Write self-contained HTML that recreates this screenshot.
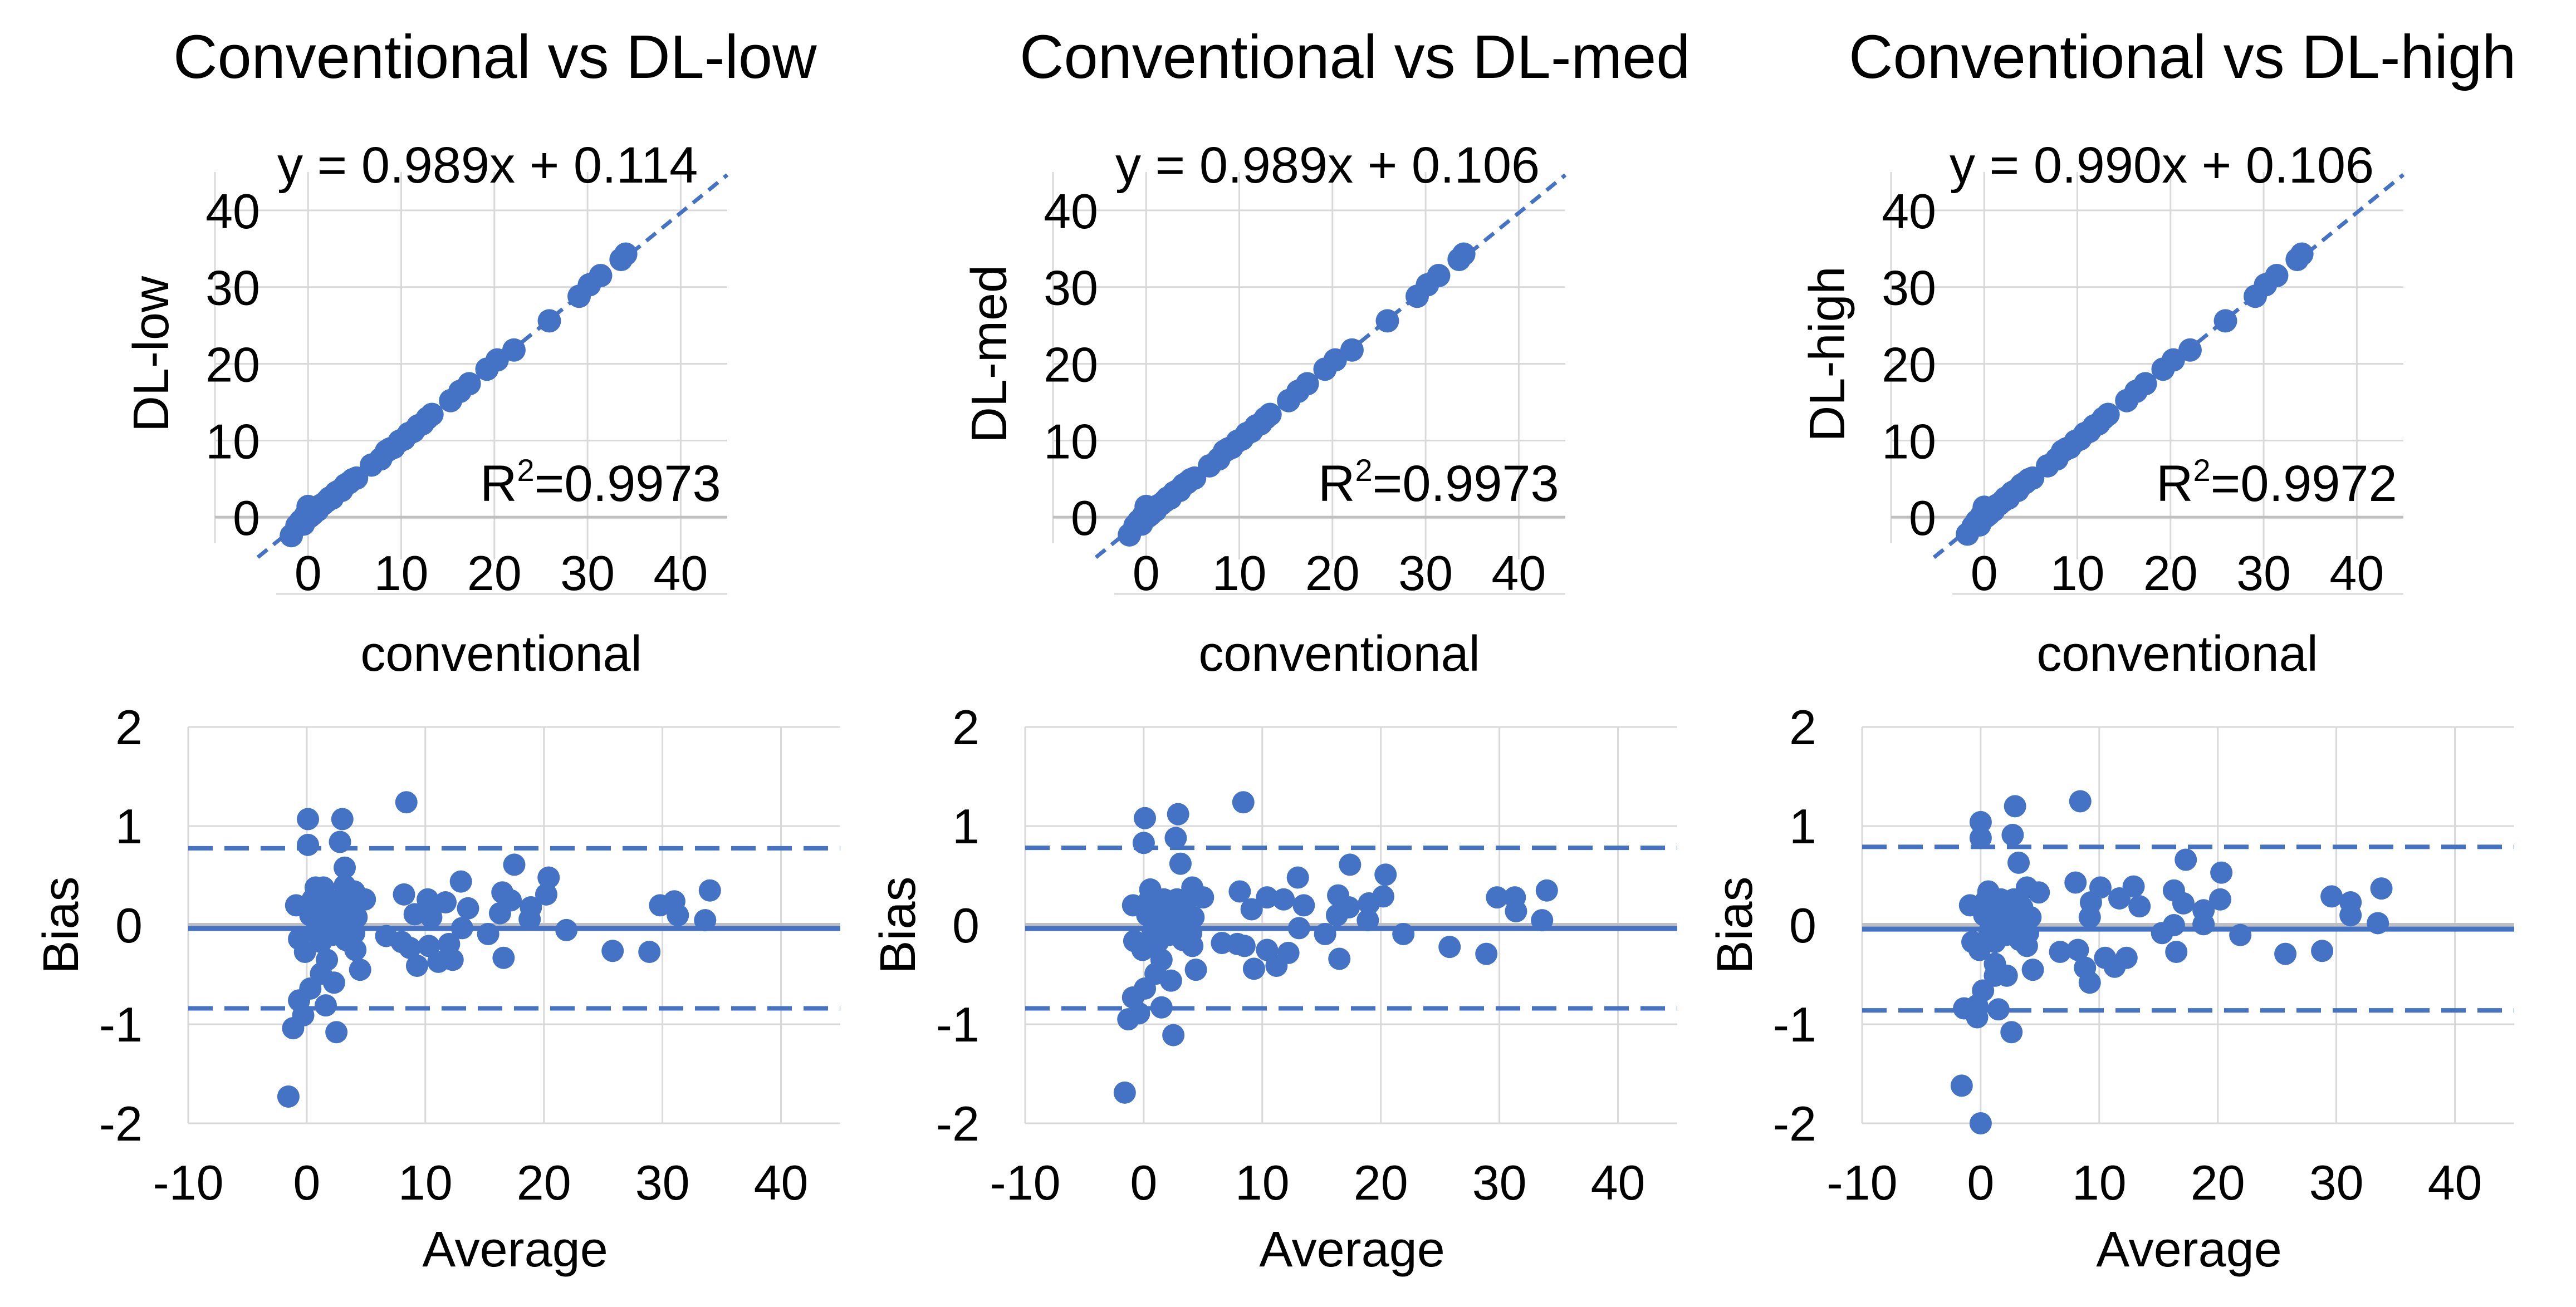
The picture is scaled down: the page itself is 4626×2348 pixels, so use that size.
<!DOCTYPE html>
<html><head><meta charset="utf-8"><style>
html,body{margin:0;padding:0;background:#fff;}
svg{display:block;font-family:"Liberation Sans",Arial,sans-serif;}
</style></head>
<body>
<svg id="chart" xmlns="http://www.w3.org/2000/svg" width="4626" height="2348" viewBox="0 0 4626 2348">
<rect x="0" y="0" width="4626" height="2348" fill="#fff"/>
</svg>
<script>
// ---- data ----
const panelTitles = ["Conventional vs DL-low", "Conventional vs DL-med", "Conventional vs DL-high"];
const dlNames = ["DL-low", "DL-med", "DL-high"];
const equations = ["y = 0.989x + 0.114", "y = 0.989x + 0.106", "y = 0.990x + 0.106"];
const slopes = [0.989, 0.989, 0.990];
const intercepts = [0.114, 0.106, 0.106];
const r2Values = ["0.9973", "0.9973", "0.9972"];
const scatterTicks = [0, 10, 20, 30, 40];
const baXTicks = [-10, 0, 10, 20, 30, 40];
const baYTicks = [-2, -1, 0, 1, 2];
const meanBias = [-0.034, -0.034, -0.04];
const upperLoA = [0.776, 0.78, 0.79];
const lowerLoA = [-0.84, -0.84, -0.86];

const convValues = [-1.8,-1.2,-0.8,-0.5,-0.3,0,0.2,0.5,0.8,1,1.3,1.6,2,2.3,2.6,3,3.3,3.6,4,4.4,4.8,5.2,6.8,7.8,8.4,8.8,9.2,9.8,10.3,10.8,11.3,11.8,12.3,12.8,13.3,15.3,16.3,17.3,19.2,20.3,22.1,25.9,29.1,30.2,31.4,33.6,34.1];
const dlLowValues = [-2.4,-1.1,-0.5,-0.9,0.2,1.4,0.1,0.4,1.1,0.9,1.5,1.7,2.1,2.5,2.5,3.2,3.4,3.5,4.2,4.5,4.9,5.1,6.8,7.6,8.6,8.9,9.1,9.9,10.2,10.9,11.2,11.9,12.2,12.9,13.4,15.2,16.4,17.4,19.3,20.5,21.8,25.6,28.8,30.3,31.5,33.6,34.3];
const dlMedValues = [-2.3,-1.1,-0.5,-0.9,0.2,1.4,0.1,0.4,1.1,0.9,1.5,1.7,2.1,2.5,2.5,3.2,3.4,3.5,4.2,4.5,4.9,5.1,6.7,7.6,8.6,8.9,9.1,9.9,10.2,10.9,11.2,11.9,12.2,12.9,13.4,15.2,16.4,17.4,19.3,20.5,21.8,25.6,28.8,30.3,31.5,33.6,34.3];
const dlHighValues = [-2.2,-1.2,-0.5,-1.0,0.2,1.3,0.1,0.4,1.1,0.9,1.5,1.7,2.1,2.5,2.5,3.2,3.4,3.5,4.2,4.5,4.9,5.1,6.7,7.6,8.6,8.9,9.1,9.9,10.2,10.9,11.2,11.9,12.2,12.9,13.4,15.2,16.4,17.4,19.3,20.5,21.8,25.6,28.8,30.3,31.5,33.6,34.3];

const baAvg1 = [8.4,0.1,3.0,0.1,2.8,3.2,17.5,20.4,13.0,34.0,16.5,20.2,8.2,0.75,1.4,-0.9,4.9,4.0,3.2,10.2,11.7,13.6,17.2,18.9,29.8,31.0,31.3,33.6,18.8,16.3,9.1,10.5,13.1,21.9,15.3,6.7,-0.65,8.0,8.7,25.8,28.9,16.6,9.3,11.1,12.3,12.0,10.3,-0.15,4.1,4.5,1.7,1.2,2.3,0.3,-0.65,1.6,-0.3,-1.15,2.5,-1.55,0.3,1.0,1.7,2.1,2.6,3.1,3.5,4.2,2.1,0.75,2.8,1.4,1.9,3.3,1.2,4.0,0.5];
const baBias1 = [1.24,1.07,1.07,0.81,0.84,0.58,0.61,0.48,0.44,0.35,0.33,0.31,0.31,0.38,0.38,0.2,0.26,0.34,0.40,0.26,0.23,0.17,0.25,0.18,0.2,0.24,0.1,0.05,0.06,0.12,0.11,0.08,-0.03,-0.05,-0.09,-0.11,-0.14,-0.17,-0.23,-0.26,-0.27,-0.33,-0.41,-0.37,-0.35,-0.19,-0.21,-0.27,-0.25,-0.45,-0.35,-0.49,-0.58,-0.64,-0.76,-0.81,-0.91,-1.04,-1.08,-1.73,0.1,0.18,0.26,0.1,0.02,-0.06,0.18,0.08,-0.1,-0.06,0.26,0.1,-0.02,-0.15,-0.17,-0.08,0.26];
const baAvg2 = [8.4,0.1,2.9,0,2.7,3.1,17.4,20.4,13.0,34.0,16.4,20.2,8.1,0.55,-0.9,5.0,4.1,10.4,11.8,13.5,17.3,19.0,29.8,31.3,31.4,33.6,18.9,16.3,9.1,13.1,21.9,15.3,6.6,-0.8,7.9,8.5,25.8,28.9,16.5,9.3,11.2,12.2,10.4,-0.1,4.1,4.4,1.5,1.0,2.3,0.1,-0.9,1.5,-0.4,-1.3,2.5,-1.6,0.3,1.0,1.7,2.1,2.6,3.1,3.5,4.2,2.1,0.75,2.8,1.4,1.9,3.3,1.2,4.0,0.5];
const baBias2 = [1.24,1.08,1.12,0.83,0.88,0.62,0.61,0.51,0.48,0.35,0.30,0.29,0.34,0.36,0.2,0.28,0.38,0.28,0.26,0.2,0.18,0.22,0.28,0.28,0.14,0.05,0.05,0.1,0.16,-0.03,-0.09,-0.09,-0.18,-0.16,-0.19,-0.21,-0.22,-0.29,-0.34,-0.44,-0.41,-0.28,-0.25,-0.25,-0.21,-0.45,-0.35,-0.49,-0.56,-0.64,-0.73,-0.83,-0.89,-0.95,-1.11,-1.69,0.1,0.18,0.26,0.1,0.02,-0.06,0.18,0.08,-0.1,-0.06,0.26,0.1,-0.02,-0.15,-0.17,-0.08,0.26];
const baAvg3 = [8.4,2.9,0,0,2.7,3.2,17.3,20.3,12.9,33.8,16.3,20.2,8.0,10.1,0.65,-0.9,4.9,3.9,11.7,13.4,17.1,18.8,29.6,31.2,31.2,33.5,18.8,16.3,9.2,9.3,21.9,15.3,6.7,-0.7,8.2,25.7,28.8,16.5,8.8,9.2,11.3,12.3,10.5,-0.1,3.9,4.4,1.2,1.2,2.2,0.2,-0.3,-1.4,1.5,-0.3,2.6,-1.6,0,0.3,1.0,1.7,2.1,2.6,3.1,3.5,4.2,2.1,0.75,2.8,1.4,1.9,3.3,1.2,4.0,0.5];
const baBias3 = [1.25,1.2,1.04,0.88,0.91,0.63,0.66,0.53,0.39,0.37,0.35,0.26,0.43,0.38,0.34,0.2,0.33,0.38,0.27,0.19,0.22,0.15,0.29,0.23,0.1,0.02,0.01,0.0,0.08,0.23,-0.1,-0.08,-0.27,-0.17,-0.25,-0.29,-0.26,-0.27,-0.43,-0.58,-0.42,-0.33,-0.33,-0.25,-0.21,-0.45,-0.39,-0.51,-0.51,-0.66,-0.81,-0.84,-0.85,-0.93,-1.08,-1.62,-2.0,0.1,0.18,0.26,0.1,0.02,-0.06,0.18,0.08,-0.1,-0.06,0.26,0.1,-0.02,-0.15,-0.17,-0.08,0.26];

const dlSeries = [dlLowValues, dlMedValues, dlHighValues];
const baAvgSeries = [baAvg1, baAvg2, baAvg3];
const baBiasSeries = [baBias1, baBias2, baBias3];

// ---- drawing ----
const NS = "http://www.w3.org/2000/svg";
const svg = document.getElementById("chart");
const BLUE = "#4472C4";
function mk(tag, attrs, parent, text) {
  const e = document.createElementNS(NS, tag);
  for (const k in attrs) e.setAttribute(k, attrs[k]);
  if (text !== undefined) e.textContent = text;
  (parent || svg).appendChild(e);
  return e;
}
const titleLefts = [311, 1831, 3320];
const eqLefts = [498, 2003, 3501];

for (let p = 0; p < 3; p++) {
  // ---------- scatter ----------
  const sOff = p * 1505;
  const sL = 386 + sOff, sR = 1306 + sOff, sT = 309, sB = 1067;
  const sxMin = -10, sxMax = 45, syMin = -10, syMax = 45;
  const sx = v => sL + (v - sxMin) / (sxMax - sxMin) * (sR - sL);
  const sy = v => sB - (v - syMin) / (syMax - syMin) * (sB - sT);
  const g = mk("g", {});
  
  

  const title = mk("text", {x: titleLefts[p], y: 140, "font-size": 110, fill: "#000"}, svg, panelTitles[p]);
  
  

  mk("line", {x1: sL, x2: sL, y1: sT, y2: 976, stroke: "#d9d9d9", "stroke-width": 3}, g);
  for (const t of scatterTicks) {
    const gl = mk("line", {x1: sx(t), x2: sx(t), y1: sT, y2: 1005, stroke: "#d9d9d9", "stroke-width": 3}, g);
    
    
  }
  for (const t of scatterTicks) {
    const gl = mk("line", {x1: sL, x2: sR, y1: sy(t), y2: sy(t), stroke: t === 0 ? "#bfbfbf" : "#d9d9d9", "stroke-width": t === 0 ? 5 : 3}, g);
    
    
  }
  mk("line", {x1: sL + 110, x2: sR, y1: sB, y2: sB, stroke: "#d9d9d9", "stroke-width": 3}, g);
  for (const t of scatterTicks) {
    const yl = mk("text", {x: 467 + sOff, y: sy(t) + 32, "font-size": 88, "text-anchor": "end", fill: "#000"}, g, String(t));
    
    
    const xl = mk("text", {x: sx(t), y: 1060, "font-size": 88, "text-anchor": "middle", fill: "#000"}, g, String(t));
    
    
  }
  const x0 = -5.4, x1 = sxMax;
  const tl = mk("line", {x1: sx(x0), y1: sy(slopes[p] * x0 + intercepts[p]), x2: sx(x1), y2: sy(slopes[p] * x1 + intercepts[p]), stroke: BLUE, "stroke-width": 7, "stroke-dasharray": "22 14"}, g);
  
  
  const dl = dlSeries[p];
  for (let i = 0; i < convValues.length; i++) {
    const c = mk("circle", {cx: sx(convValues[i]), cy: sy(dl[i]), r: 21, fill: BLUE}, g);
    
    
  }
  const eq = mk("text", {x: eqLefts[p], y: 328, "font-size": 92, fill: "#000"}, g, equations[p]);
  
  
  const r2 = mk("text", {x: 862 + sOff, y: 900, "font-size": 92, fill: "#000"}, g);
  
  
  mk("tspan", {}, r2, "R");
  mk("tspan", {"font-size": 56, dy: -36}, r2, "2");
  mk("tspan", {dy: 36}, r2, "=" + r2Values[p]);
  const yt = mk("text", {x: 0, y: 0, "font-size": 90, "text-anchor": "middle", "dominant-baseline": "central", transform: `translate(${272 + sOff},636) rotate(-90)`, fill: "#000"}, g, dlNames[p]);
  
  
  const xt = mk("text", {x: 900 + sOff, y: 1205, "font-size": 90, "text-anchor": "middle", fill: "#000"}, g, "conventional");
  
  

  // ---------- Bland-Altman ----------
  const bOff = p * 1503;
  const bL = 338 + bOff, bR = 1509 + bOff, bT = 1306, bB = 2018;
  const bxMin = -10, bxMax = 45, byMin = -2, byMax = 2;
  const bx = v => bL + (v - bxMin) / (bxMax - bxMin) * (bR - bL);
  const by = v => bB - (v - byMin) / (byMax - byMin) * (bB - bT);
  const h = mk("g", {});
  
  
  for (const t of baXTicks) {
    const gl = mk("line", {x1: bx(t), x2: bx(t), y1: bT, y2: bB, stroke: "#d9d9d9", "stroke-width": 3}, h);
    
    
    const xl = mk("text", {x: bx(t), y: 2155, "font-size": 88, "text-anchor": "middle", fill: "#000"}, h, String(t));
    
    
  }
  for (const t of baYTicks) {
    const gl = mk("line", {x1: bL, x2: bR, y1: by(t), y2: by(t), stroke: t === 0 ? "#bfbfbf" : "#d9d9d9", "stroke-width": t === 0 ? 8 : 3}, h);
    
    
    const yl = mk("text", {x: 256 + bOff, y: by(t) + 31, "font-size": 88, "text-anchor": "end", fill: "#000"}, h, String(t));
    
    
  }
  const ml = mk("line", {x1: bL, x2: bR, y1: by(meanBias[p]), y2: by(meanBias[p]), stroke: BLUE, "stroke-width": 9}, h);
  
  
  const ul = mk("line", {x1: bL, x2: bR, y1: by(upperLoA[p]), y2: by(upperLoA[p]), stroke: BLUE, "stroke-width": 8, "stroke-dasharray": "44 21"}, h);
  
  
  const ll = mk("line", {x1: bL, x2: bR, y1: by(lowerLoA[p]), y2: by(lowerLoA[p]), stroke: BLUE, "stroke-width": 8, "stroke-dasharray": "44 21"}, h);
  
  
  const av = baAvgSeries[p], bs = baBiasSeries[p];
  for (let i = 0; i < av.length; i++) {
    const c = mk("circle", {cx: bx(av[i]), cy: by(bs[i]), r: 20, fill: BLUE}, h);
    
    
  }
  const byt = mk("text", {x: 0, y: 0, "font-size": 90, "text-anchor": "middle", "dominant-baseline": "central", transform: `translate(${110 + bOff},1662) rotate(-90)`, fill: "#000"}, h, "Bias");
  
  
  const bxt = mk("text", {x: 925 + bOff, y: 2275, "font-size": 90, "text-anchor": "middle", fill: "#000"}, h, "Average");
  
  
}
</script>
</body></html>
